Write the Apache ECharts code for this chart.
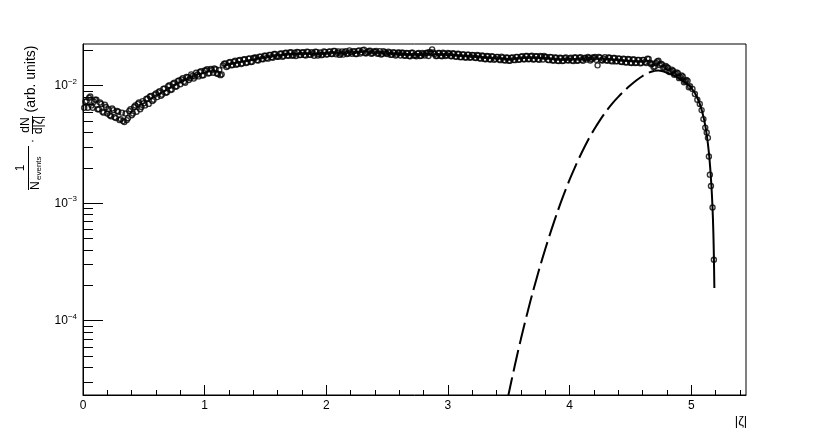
<!DOCTYPE html>
<html>
<head>
<meta charset="utf-8">
<title>|ζ| distribution</title>
<script src="https://cdn.jsdelivr.net/npm/echarts@6.0.0/dist/echarts.min.js"></script>
<style>
    html, body { margin: 0; padding: 0; background: #fff; }
    #main { width: 830px; height: 440px; }
</style>
</head>
<body>
<div id="main"></div>
<script>
//数据点 A 组: 从 0.01 开始, 每 0.02 一个 bin, 数值单位 1e-3
const binStartA = 0.01;
const binStep = 0.02;
const binValuesA = [
    6.5, 7.4, 7.9, 6.8, 7.3, 7.6, 6.3, 7.0, 5.9, 6.6,
    6.3, 5.5, 6.2, 5.3, 6.0, 5.2, 5.0, 5.8, 5.3, 6.3,
    5.8, 6.8, 7.0, 6.3, 7.4, 6.8, 7.8, 8.1, 7.4, 8.4,
    8.0, 9.0, 8.4, 9.5, 8.8, 10.1, 9.3, 10.6, 9.9, 11.1,
    11.3, 10.8, 11.9, 11.2, 12.5, 11.5, 12.9, 12.0, 13.3, 12.3,
    13.5, 12.7, 13.9, 12.9, 13.8, 12.6, 12.3, 14.9, 15.5, 14.7,
    15.9, 15.0, 16.3, 15.3, 16.6, 15.5, 16.8, 15.8, 17.1, 16.0,
    17.3, 16.5, 17.7, 16.9, 18.0, 17.2, 18.3, 17.5, 18.6, 17.7,
    17.7, 18.8, 17.9, 19.1, 18.0, 19.3, 18.2, 17.9, 19.3, 18.3,
    19.3, 18.1, 19.4, 18.3, 18.9, 19.5, 18.1, 19.2, 18.4, 19.4,
    18.5, 19.6, 18.6, 19.8, 19.1, 18.3, 19.6, 19.3, 18.6, 20.0,
    18.7, 19.7, 18.6, 20.0, 19.3, 20.3, 18.9, 19.8, 18.7, 19.6,
    19.8, 18.8, 18.4, 19.7, 18.9, 19.5, 18.3, 19.3, 18.1, 19.2,
    18.1, 19.1, 18.0, 18.9, 17.8, 19.1, 18.1, 18.8, 17.9, 19.0,
    18.1, 19.1, 19.4, 20.4, 18.6, 17.9, 19.0, 17.8, 18.8, 18.2,
    18.8, 17.8, 18.7, 17.6, 18.6, 17.5, 18.5, 17.4, 18.4, 17.5,
    18.2, 17.2, 18.1, 17.0, 17.9, 16.8, 17.8, 16.7, 17.7, 16.9,
    17.6, 16.5, 17.4, 16.4, 17.3, 16.3, 17.4, 16.5, 17.6, 16.7,
    17.8, 16.8, 17.9, 16.9, 18.0, 16.8, 17.8, 16.6, 17.7, 17.9,
    17.6, 16.5, 17.5, 16.4, 17.3, 16.2, 17.2, 16.3, 17.4, 16.4,
    17.3, 16.2, 17.4, 16.4, 17.5, 16.3, 17.2, 17.6, 16.4, 17.4,
    17.6, 14.9, 17.4, 16.4, 17.5, 16.3, 17.3, 16.1, 17.2, 16.2,
    17.0, 15.9, 16.9, 15.8, 16.8, 15.6, 16.7, 15.7, 16.6, 15.6,
    16.6, 15.6, 16.9, 15.2, 14.4, 15.6, 16.3, 15.4, 14.2, 14.7,
    14.2, 13.3, 13.4, 12.7, 12.8, 11.8, 12.0, 10.9, 11.0, 9.9
];

//数据点 B 组: 从 0.02 开始, 每 0.02 一个 bin
const binStartB = 0.02;
const binValuesB = [
    7.3, 6.5, 8.1, 6.5, 7.6, 6.3, 7.2, 6.0, 6.9, 5.8,
    5.6, 6.4, 5.4, 6.1, 5.1, 5.9, 4.9, 5.1, 6.1, 5.6,
    6.6, 6.0, 7.2, 6.6, 7.1, 7.7, 7.0, 8.2, 7.6, 8.6,
    8.8, 8.2, 9.4, 8.7, 9.9, 9.2, 10.4, 9.8, 11.0, 10.3,
    11.6, 10.6, 11.8, 11.6, 12.1, 12.0, 12.4, 13.1, 12.2, 13.5,
    13.8, 12.8, 13.6, 14.0, 12.7, 13.6, 12.5, 15.4, 14.4, 15.8,
    14.9, 16.0, 15.1, 16.4, 15.3, 16.7, 15.6, 17.0, 15.9, 17.2,
    17.4, 16.4, 17.7, 16.8, 18.0, 17.0, 18.3, 17.3, 18.6, 17.6,
    18.7, 17.6, 19.0, 18.1, 19.2, 18.0, 19.1, 19.4, 18.2, 19.2,
    18.3, 19.5, 18.4, 19.3, 18.0, 19.4, 18.5, 18.2, 19.6, 18.4,
    19.5, 18.6, 19.8, 18.5, 19.6, 18.7, 18.4, 19.7, 18.8, 19.3,
    19.6, 18.6, 19.8, 18.8, 20.1, 18.9, 19.4, 19.9, 18.9, 19.5,
    18.7, 19.7, 18.6, 19.3, 18.6, 19.2, 18.4, 19.1, 18.4, 19.1,
    19.1, 18.1, 19.0, 17.9, 19.1, 18.1, 17.8, 19.0, 18.0, 18.6,
    19.0, 17.9, 18.9, 19.2, 17.9, 19.0, 18.0, 19.1, 17.9, 19.0,
    17.9, 18.9, 17.7, 18.7, 17.5, 18.5, 17.4, 18.4, 17.3, 18.3,
    17.3, 18.3, 17.1, 18.1, 16.9, 17.9, 16.8, 17.8, 16.6, 17.6,
    16.7, 17.7, 16.5, 17.4, 16.3, 17.3, 16.6, 17.6, 16.6, 17.7,
    16.8, 17.9, 16.8, 17.8, 16.7, 17.8, 16.8, 17.9, 16.7, 17.6,
    16.6, 17.6, 16.4, 17.4, 16.3, 17.3, 16.2, 17.2, 16.5, 17.1,
    16.4, 17.4, 16.3, 17.3, 16.6, 17.2, 16.7, 17.3, 16.8, 17.3,
    16.6, 17.6, 16.5, 17.0, 16.5, 17.4, 16.3, 17.2, 16.1, 17.1,
    16.0, 17.0, 15.8, 16.9, 15.7, 16.7, 15.6, 16.6, 15.5, 16.6,
    15.9, 17.0, 15.7, 15.4, 14.6, 16.1, 15.0, 15.2, 14.3, 14.4,
    13.1, 13.7, 12.4, 13.0, 11.6, 12.2, 10.7, 11.2, 9.7
];

//尾部陡降的点
const tailX = [5.01, 5.03, 5.05, 5.07, 5.085, 5.10, 5.115, 5.127, 5.137, 5.145, 5.153, 5.162, 5.175, 5.186];
const tailY = [9.4e-3, 8.5e-3, 7.6e-3, 7.0e-3, 6.2e-3, 5.2e-3, 4.4e-3, 4.0e-3, 3.6e-3, 2.5e-3, 1.75e-3, 1.4e-3, 9.2e-4, 3.3e-4];

//拟合曲线 (实线)
const fitX = [4.70, 4.73, 4.80, 4.87, 4.93, 5.00, 5.05, 5.09, 5.12, 5.145, 5.165, 5.178, 5.185, 5.19];
const fitY = [1.34e-2, 1.345e-2, 1.29e-2, 1.2e-2, 1.1e-2, 9.6e-3, 7.9e-3, 6.0e-3, 4.3e-3, 2.7e-3, 1.45e-3, 7.5e-4, 4e-4, 1.9e-4];

//外推曲线 (虚线)
const extX = [3.49, 3.55, 3.60, 3.65, 3.70, 3.75, 3.80, 3.85, 3.90, 3.95, 4.00, 4.05, 4.10,
    4.15, 4.20, 4.25, 4.30, 4.35, 4.40, 4.45, 4.50, 4.55, 4.60, 4.65, 4.70];
const extY = [2.16e-5, 4.18e-5, 7.01e-5, 1.138e-4, 1.79e-4, 2.74e-4, 4.08e-4, 5.93e-4, 8.43e-4, 1.17e-3,
    1.585e-3, 2.09e-3, 2.70e-3, 3.42e-3, 4.22e-3, 5.1e-3, 6.05e-3, 7.05e-3, 8.04e-3, 9.06e-3,
    1.009e-2, 1.114e-2, 1.21e-2, 1.29e-2, 1.34e-2];

//坐标轴
const xMax = 5.45;
const xMajor = [0, 1, 2, 3, 4, 5];
const xMinor = [0.2, 0.4, 0.6, 0.8, 1.2, 1.4, 1.6, 1.8, 2.2, 2.4, 2.6, 2.8, 3.2, 3.4, 3.6, 3.8,
    4.2, 4.4, 4.6, 4.8, 5.2, 5.4];
const yMin = 2.333e-5;
const yMax = 0.02265;
const yMajor = [1e-4, 1e-3, 1e-2];
const yMinor = [3e-5, 4e-5, 5e-5, 6e-5, 7e-5, 8e-5, 9e-5,
    2e-4, 3e-4, 4e-4, 5e-4, 6e-4, 7e-4, 8e-4, 9e-4,
    2e-3, 3e-3, 4e-3, 5e-3, 6e-3, 7e-3, 8e-3, 9e-3, 2e-2];

const font = "'Liberation Sans', Arial, Helvetica, sans-serif";

let points = [];
binValuesA.forEach(function (v, i) {
    points.push([binStartA + i * binStep, v / 1000]);
});
binValuesB.forEach(function (v, i) {
    points.push([binStartB + i * binStep, v / 1000]);
});
tailX.forEach(function (x, i) {
    points.push([x, tailY[i]]);
});
let fitLine = fitX.map(function (x, i) {
    return [x, fitY[i]];
});
let extLine = extX.map(function (x, i) {
    return [x, extY[i]];
});

//旋转的 y 轴标题文字
function vText(text, x, y, size, align) {
    return {
        type: 'text', x: x, y: y, rotation: Math.PI / 2,
        style: { text: text, fontSize: size, fontFamily: font, fill: '#000', align: align || 'center', verticalAlign: 'middle' }
    };
}

let chart = echarts.init(document.getElementById('main'));

chart.setOption({
    animation: false,
    backgroundColor: '#fff',
    textStyle: { fontFamily: font, color: '#000' },
    grid: {
        left: 83,
        right: 84,
        top: 44,
        bottom: 45,
        show: true,
        borderColor: '#000',
        borderWidth: 1,
        backgroundColor: 'transparent'
    },
    xAxis: [
        {
            type: 'value',
            min: 0,
            max: xMax,
            position: 'bottom',
            axisLine: { show: true, lineStyle: { color: '#000', width: 1 } },
            axisTick: { show: true, inside: true, length: 10, customValues: xMajor, lineStyle: { color: '#000' } },
            axisLabel: { customValues: xMajor, fontSize: 12, color: '#000', margin: 5, fontFamily: font },
            splitLine: { show: false }
        },
        {
            type: 'value',
            min: 0,
            max: xMax,
            position: 'bottom',
            axisLine: { show: false },
            axisTick: { show: true, inside: true, length: 5, customValues: xMinor, lineStyle: { color: '#000' } },
            axisLabel: { show: false },
            splitLine: { show: false }
        }
    ],
    yAxis: [
        {
            type: 'log',
            logBase: 10,
            min: yMin,
            max: yMax,
            position: 'left',
            axisLine: { show: true, lineStyle: { color: '#000', width: 1 } },
            axisTick: { show: true, inside: true, length: 20, customValues: yMajor, lineStyle: { color: '#000' } },
            axisLabel: {
                customValues: yMajor,
                margin: 6,
                formatter: function (v) {
                    let n = Math.round(Math.log10(v));
                    return '{b|10}{s|\u2212' + (-n) + '}';
                },
                rich: {
                    b: { fontSize: 12, fontFamily: font, color: '#000', lineHeight: 16 },
                    s: { fontSize: 8, fontFamily: font, color: '#000', verticalAlign: 'top', lineHeight: 9 }
                }
            },
            splitLine: { show: false }
        },
        {
            type: 'log',
            logBase: 10,
            min: yMin,
            max: yMax,
            position: 'left',
            axisLine: { show: false },
            axisTick: { show: true, inside: true, length: 10, customValues: yMinor, lineStyle: { color: '#000' } },
            axisLabel: { show: false },
            splitLine: { show: false }
        }
    ],
    series: [
        {
            name: 'extrapolation',
            type: 'line',
            data: extLine,
            showSymbol: false,
            smooth: 0.3,
            lineStyle: { color: '#000', width: 2, type: [22, 6] },
            silent: true,
            z: 2
        },
        {
            name: 'data',
            type: 'scatter',
            data: points,
            symbol: 'circle',
            symbolSize: 5,
            itemStyle: { color: 'rgba(0,0,0,0)', borderColor: '#000', borderWidth: 1.4 },
            silent: true,
            z: 3
        },
        {
            name: 'fit',
            type: 'line',
            data: fitLine,
            showSymbol: false,
            smooth: 0.3,
            lineStyle: { color: '#000', width: 2 },
            silent: true,
            z: 4
        }
    ],
    graphic: [
        //y 轴标题
        vText('(arb. units)', 31, 79, 14),
        vText('dN', 26, 125, 12),
        { type: 'line', shape: { x1: 32.5, y1: 116, x2: 32.5, y2: 134 }, style: { stroke: '#000', lineWidth: 1 } },
        vText('d|\u03b6|', 39, 125, 12),
        vText('\u00b7', 33, 141, 12),
        vText('1', 21, 168, 12),
        { type: 'line', shape: { x1: 28.5, y1: 146, x2: 28.5, y2: 190 }, style: { stroke: '#000', lineWidth: 1 } },
        vText('N', 36, 190, 12, 'left'),
        vText('events', 39, 180, 8, 'left'),
        //x 轴标题
        { type: 'text', x: 741, y: 421,
          style: { text: '|\u03b6|', fontSize: 13, fontFamily: font, fill: '#000', align: 'center', verticalAlign: 'middle' } }
    ]
});
</script>
</body>
</html>
